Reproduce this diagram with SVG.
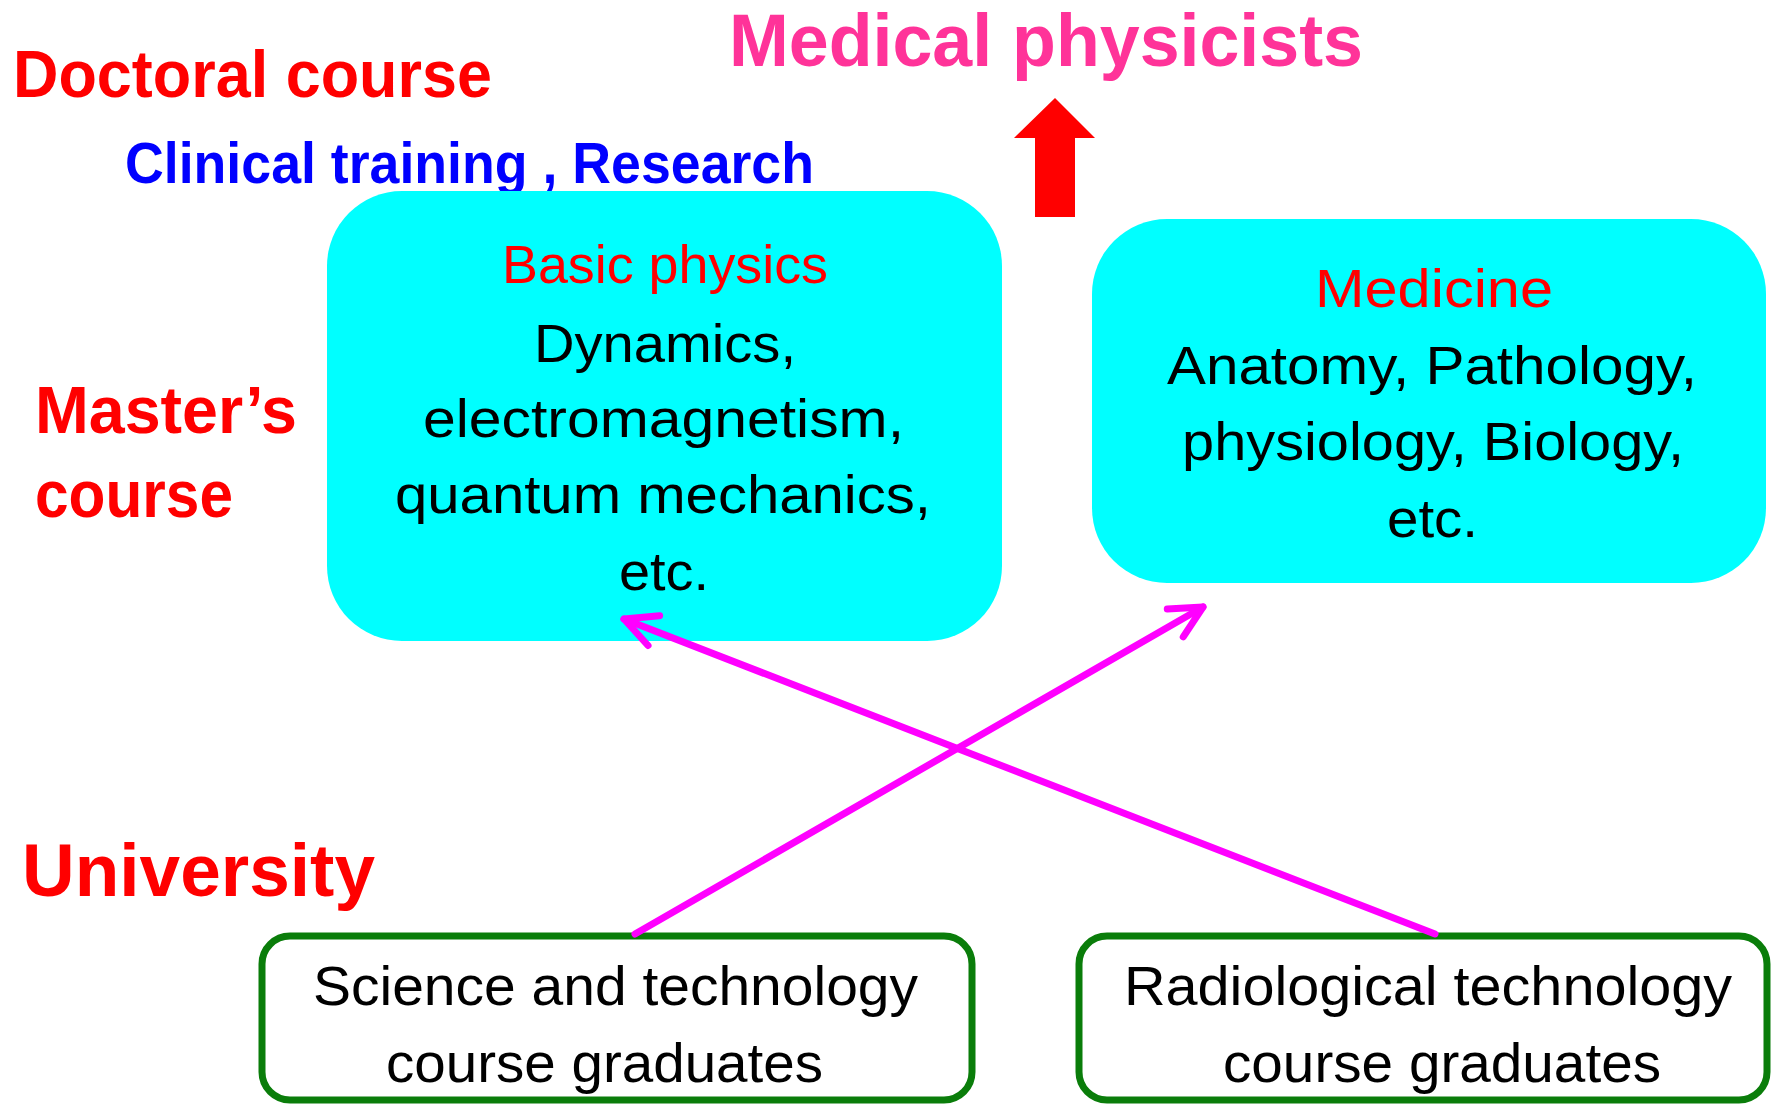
<svg xmlns="http://www.w3.org/2000/svg" width="1775" height="1107" viewBox="0 0 1775 1107">
<style>
text{font-family:"Liberation Sans",Arial,sans-serif}
.h{font-weight:bold;fill:#FF0000}
.t{fill:#FF0000;font-size:53px;text-anchor:start}
.b{fill:#000;font-size:54px}
.g{fill:#000;font-size:56px}
.box{fill:#00FFFF}
.gbox{fill:#fff;stroke:#0A7D0A;stroke-width:7}
.con{stroke:#FF00FF;stroke-width:7;fill:none;stroke-linecap:round}
</style>
<defs>
<marker id="ah" markerUnits="userSpaceOnUse" viewBox="-40 -22 46 44" refX="0" refY="0" markerWidth="46" markerHeight="44" orient="auto">
<path d="M-32,-16 L0,0 L-32,16" fill="none" stroke="#FF00FF" stroke-width="7" stroke-linecap="round" stroke-linejoin="round"/>
</marker>
</defs>

<g id="labels">
<text class="h" x="13" y="97" font-size="66" textLength="479" lengthAdjust="spacingAndGlyphs">Doctoral course</text>
<text x="125" y="183" font-size="57" font-weight="bold" fill="#0000FF" textLength="689" lengthAdjust="spacingAndGlyphs">Clinical training , Research</text>
<text x="729" y="66" font-size="75" font-weight="bold" fill="#FF3399" textLength="634" lengthAdjust="spacingAndGlyphs">Medical physicists</text>
<text class="h" x="35" y="433" font-size="66" textLength="262" lengthAdjust="spacingAndGlyphs">Master’s</text>
<text class="h" x="35" y="517" font-size="66" textLength="198" lengthAdjust="spacingAndGlyphs">course</text>
<text class="h" x="22" y="896" font-size="74" textLength="353" lengthAdjust="spacingAndGlyphs">University</text>
</g>

<g id="up-arrow">
<path d="M1055,98 L1095,138 L1075,138 L1075,217 L1035,217 L1035,138 L1014,138 Z" fill="#FF0000"/>
</g>

<g id="basic-physics">
<rect class="box" x="327" y="191" width="675" height="450" rx="75" ry="75"/>
<text class="t" x="502" y="283" textLength="326" lengthAdjust="spacingAndGlyphs">Basic physics</text>
<text class="b" x="534" y="362" textLength="262" lengthAdjust="spacingAndGlyphs">Dynamics,</text>
<text class="b" x="423" y="437" textLength="481" lengthAdjust="spacingAndGlyphs">electromagnetism,</text>
<text class="b" x="395" y="513" textLength="536" lengthAdjust="spacingAndGlyphs">quantum mechanics,</text>
<text class="b" x="619" y="590" textLength="90" lengthAdjust="spacingAndGlyphs">etc.</text>
</g>

<g id="medicine">
<rect class="box" x="1092" y="219" width="674" height="364" rx="75" ry="75"/>
<text class="t" x="1315" y="307" textLength="238" lengthAdjust="spacingAndGlyphs">Medicine</text>
<text class="b" x="1167" y="384" textLength="530" lengthAdjust="spacingAndGlyphs">Anatomy, Pathology,</text>
<text class="b" x="1182" y="460" textLength="502" lengthAdjust="spacingAndGlyphs">physiology, Biology,</text>
<text class="b" x="1387" y="537" textLength="91" lengthAdjust="spacingAndGlyphs">etc.</text>
</g>

<g id="science-grads">
<rect class="gbox" x="262" y="936" width="710" height="164" rx="28" ry="28"/>
<text class="g" x="313" y="1005" textLength="605" lengthAdjust="spacingAndGlyphs">Science and technology</text>
<text class="g" x="386" y="1082" textLength="437" lengthAdjust="spacingAndGlyphs">course graduates</text>
</g>

<g id="radiological-grads">
<rect class="gbox" x="1079" y="936" width="688" height="164" rx="28" ry="28"/>
<text class="g" x="1124" y="1005" textLength="608" lengthAdjust="spacingAndGlyphs">Radiological technology</text>
<text class="g" x="1223" y="1082" textLength="438" lengthAdjust="spacingAndGlyphs">course graduates</text>
</g>

<g id="connectors">
<line class="con" x1="635" y1="934" x2="1203" y2="607" marker-end="url(#ah)"/>
<line class="con" x1="1435" y1="934" x2="624" y2="619" marker-end="url(#ah)"/>
</g>
</svg>
